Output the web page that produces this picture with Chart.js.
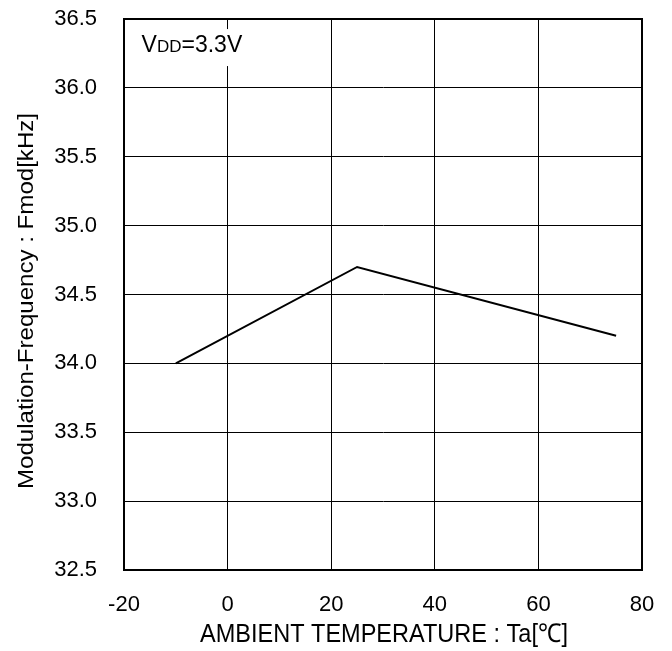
<!DOCTYPE html>
<html>
<head>
<meta charset="utf-8">
<script src="https://cdn.jsdelivr.net/npm/chart.js@4.4.1/dist/chart.umd.min.js"></script>
<style>
  html, body { margin: 0; padding: 0; background: #fff; }
  #wrap { width: 672px; height: 651px; }
</style>
</head>
<body>
<div id="wrap"><canvas id="fmodChart" width="672" height="651"></canvas></div>
<script>
// data
var temps = [-10, 25, 75];
var fmod = [34.0, 34.7, 34.2];
var xTicks = [-20, 0, 20, 40, 60, 80];
var yTicks = [32.5, 33.0, 33.5, 34.0, 34.5, 35.0, 35.5, 36.0, 36.5];
var xTitle = "AMBIENT TEMPERATURE : Ta[\u2103]";
var yTitle = "Modulation-Frequency : Fmod[kHz]";

var regular = "'Liberation Sans', Arial, sans-serif";

// axis titles in a condensed look (squeezed horizontally)
var axisTitles = {
    id: 'axisTitles',
    afterDraw: function (chart) {
        var c = chart.ctx;
        c.save();
        c.fillStyle = '#000';
        c.textAlign = 'center';
        c.textBaseline = 'alphabetic';

        c.font = "26px " + regular;
        var wx = c.measureText(xTitle).width;
        c.save();
        c.translate(384, 642);
        c.scale(368 / wx, 1);
        c.fillText(xTitle, 0, 0);
        c.restore();

        c.font = "22px " + regular;
        var wy = c.measureText(yTitle).width;
        c.save();
        c.translate(33, 301);
        c.rotate(-Math.PI / 2);
        c.scale(376 / wy, 1);
        c.fillText(yTitle, 0, 0);
        c.restore();

        c.restore();
    }
};

// white box with "VDD=3.3V" (DD as smaller capitals)
var vddLabel = {
    id: 'vddLabel',
    afterDraw: function (chart) {
        var c = chart.ctx;
        var xs = chart.scales.x, ys = chart.scales.y;
        var x0 = xs.getPixelForValue(-16.6);
        var base = ys.getPixelForValue(36.26);
        c.save();
        c.font = "23px " + regular;
        var w1 = c.measureText("V").width;
        c.font = "17px " + regular;
        var w2 = c.measureText("DD").width;
        c.font = "23px " + regular;
        var w3 = c.measureText("=3.3V").width;
        c.fillStyle = '#fff';
        c.fillRect(x0 - 2, base - 23, w1 + w2 + w3 + 4, 37);
        c.fillStyle = '#000';
        c.textBaseline = 'alphabetic';
        c.fillText("V", x0, base);
        c.font = "17px " + regular;
        c.fillText("DD", x0 + w1, base);
        c.font = "23px " + regular;
        c.fillText("=3.3V", x0 + w1 + w2, base);
        c.restore();
    }
};

var ctx = document.getElementById('fmodChart').getContext('2d');
var myChart = new Chart(ctx, {
    type: 'scatter',
    data: {
        datasets: [{
            data: temps.map(function (t, i) { return { x: t, y: fmod[i] }; }),
            showLine: true,
            borderColor: '#000',
            borderWidth: 2,
            pointRadius: 0,
            tension: 0
        }]
    },
    options: {
        responsive: false,
        animation: false,
        layout: { padding: { top: 19, right: 30, left: 0, bottom: 0 } },
        plugins: { legend: { display: false }, tooltip: { enabled: false } },
        scales: {
            x: {
                type: 'linear',
                min: -20, max: 80,
                afterBuildTicks: function (s) { s.ticks = xTicks.map(function (v) { return { value: v }; }); },
                grid: { color: '#000', lineWidth: 1, drawTicks: false },
                border: { color: '#000', width: 2 },
                ticks: { color: '#000', font: { family: regular, size: 22 }, padding: 22, maxRotation: 0 },
                afterFit: function (s) { s.height = 81; s.paddingLeft = 0; s.paddingRight = 0; }
            },
            y: {
                type: 'linear',
                min: 32.5, max: 36.5,
                afterBuildTicks: function (s) { s.ticks = yTicks.map(function (v) { return { value: v }; }); },
                grid: { color: '#000', lineWidth: 1, drawTicks: false },
                border: { color: '#000', width: 2 },
                ticks: { color: '#000', font: { family: regular, size: 22 }, padding: 27,
                    callback: function (v) { return v.toFixed(1); } },
                afterFit: function (s) { s.width = 124; s.paddingTop = 0; s.paddingBottom = 0; }
            }
        }
    },
    plugins: [vddLabel, axisTitles, {
        id: 'frame',
        afterDatasetsDraw: function (chart) {
            var a = chart.chartArea, c = chart.ctx;
            c.save();
            c.strokeStyle = '#000';
            c.lineWidth = 2;
            c.strokeRect(a.left, a.top, a.right - a.left, a.bottom - a.top);
            c.restore();
        }
    }]
});
</script>
</body>
</html>
